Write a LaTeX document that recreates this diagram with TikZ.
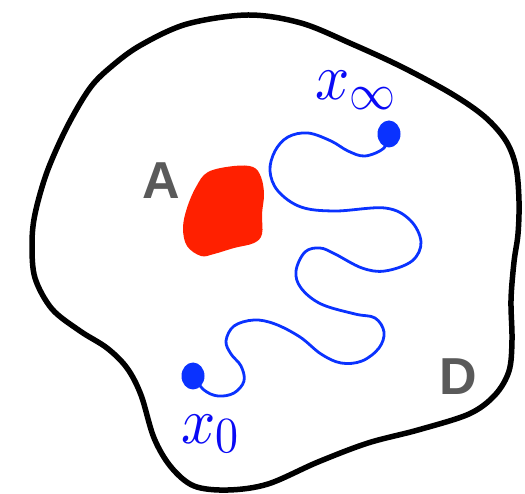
\documentclass[tikz,border=0pt]{standalone}
\usepackage{fontspec}
\setsansfont{Liberation Sans}
\DeclareFontShape{OML}{cmm}{m}{it}{<->cmmi10}{}
\DeclareFontShape{OMS}{cmsy}{m}{n}{<->cmsy10}{}
\DeclareFontShape{OT1}{cmr}{m}{n}{<->cmr10}{}
\DeclareMathSizes{60}{60}{46}{33}
\usetikzlibrary{shapes.geometric}
\definecolor{walkblue}{RGB}{10,50,255}
\definecolor{labelblue}{RGB}{10,10,245}
\definecolor{blobred}{RGB}{255,32,0}
\definecolor{lettergray}{RGB}{90,90,90}
\tikzset{
  boundaryline/.style={draw=black,line width=5.5pt,line join=round},
  walkline/.style={draw=walkblue,line width=2.8pt,line cap=round,line join=round},
  walkdot/.style={ellipse,fill=walkblue,draw=none,minimum width=23pt,minimum height=27pt,inner sep=0pt},
  mathlabel/.style={text=labelblue,inner sep=0pt,anchor=base west,font=\fontsize{60}{70}\selectfont},
  setlabel/.style={text=lettergray,inner sep=0pt,anchor=base,font=\fontsize{52}{60}\selectfont\sffamily\bfseries}
}
\begin{document}
\begin{tikzpicture}[x=1pt,y=-1pt]
\useasboundingbox (0,0) rectangle (525,494);
% domain D
\draw[boundaryline] plot[smooth cycle,tension=0.55] coordinates {
 (248,15) (301,23) (352,44) (402,67) (452,94) (485,117) (506,141) (516,167)
 (519,201) (518,234) (514,262) (511,300) (512,340) (509,371) (495,395) (469,414)
 (418,430) (368,443) (318,462) (268,484) (228,490) (194,486) (171,467) (154,438)
 (141,395) (127,368) (107,348) (80,331) (52,309) (35,278) (32,244) (35,214)
 (47,172) (67,127) (90,88) (112,66) (141,45) (187,24)};
% set A
\fill[blobred] plot[smooth cycle,tension=0.6] coordinates {
 (208,172) (234,166) (253,167) (261,177) (264,194) (262,214) (262,234) (254,243)
 (234,248) (214,254) (201,256) (187,246) (183,228) (187,208) (196,187)};
% walk endpoints
\coordinate (pinf) at (389,134);
\coordinate (pzero) at (193,376);
\draw[walkline] plot[smooth,tension=0.6] coordinates {
 (pinf) (384,148) (365,156) (348,151) (331,141) (308,133) (288,137) (275,151)
 (270,171) (278,191) (301,207) (335,211) (385,208) (410,220) (421,242) (412,261)
 (385,271) (362,268) (335,254) (320,248) (305,252) (296,271) (301,288) (321,304)
 (355,314) (375,318) (384,332) (379,348) (362,361) (341,363) (321,354) (300,337)
 (275,324) (254,320) (234,326) (226,341) (231,354) (241,366) (244,381) (234,393)
 (218,396) (204,390) (pzero)};
\node[walkdot] (dinf) at (pinf) {};
\node[walkdot] (dzero) at (pzero) {};
% labels
\node[mathlabel] (linf) at (315,100) {\scalebox{1}[1.1]{$x_\infty$}};
\node[mathlabel] (lzero) at (181,443) {\scalebox{1}[1.1]{$x_0$}};
\node[setlabel] (lA) at (161,199) {A};
\node[setlabel] (lD) at (458,395) {D};
\end{tikzpicture}
\end{document}
